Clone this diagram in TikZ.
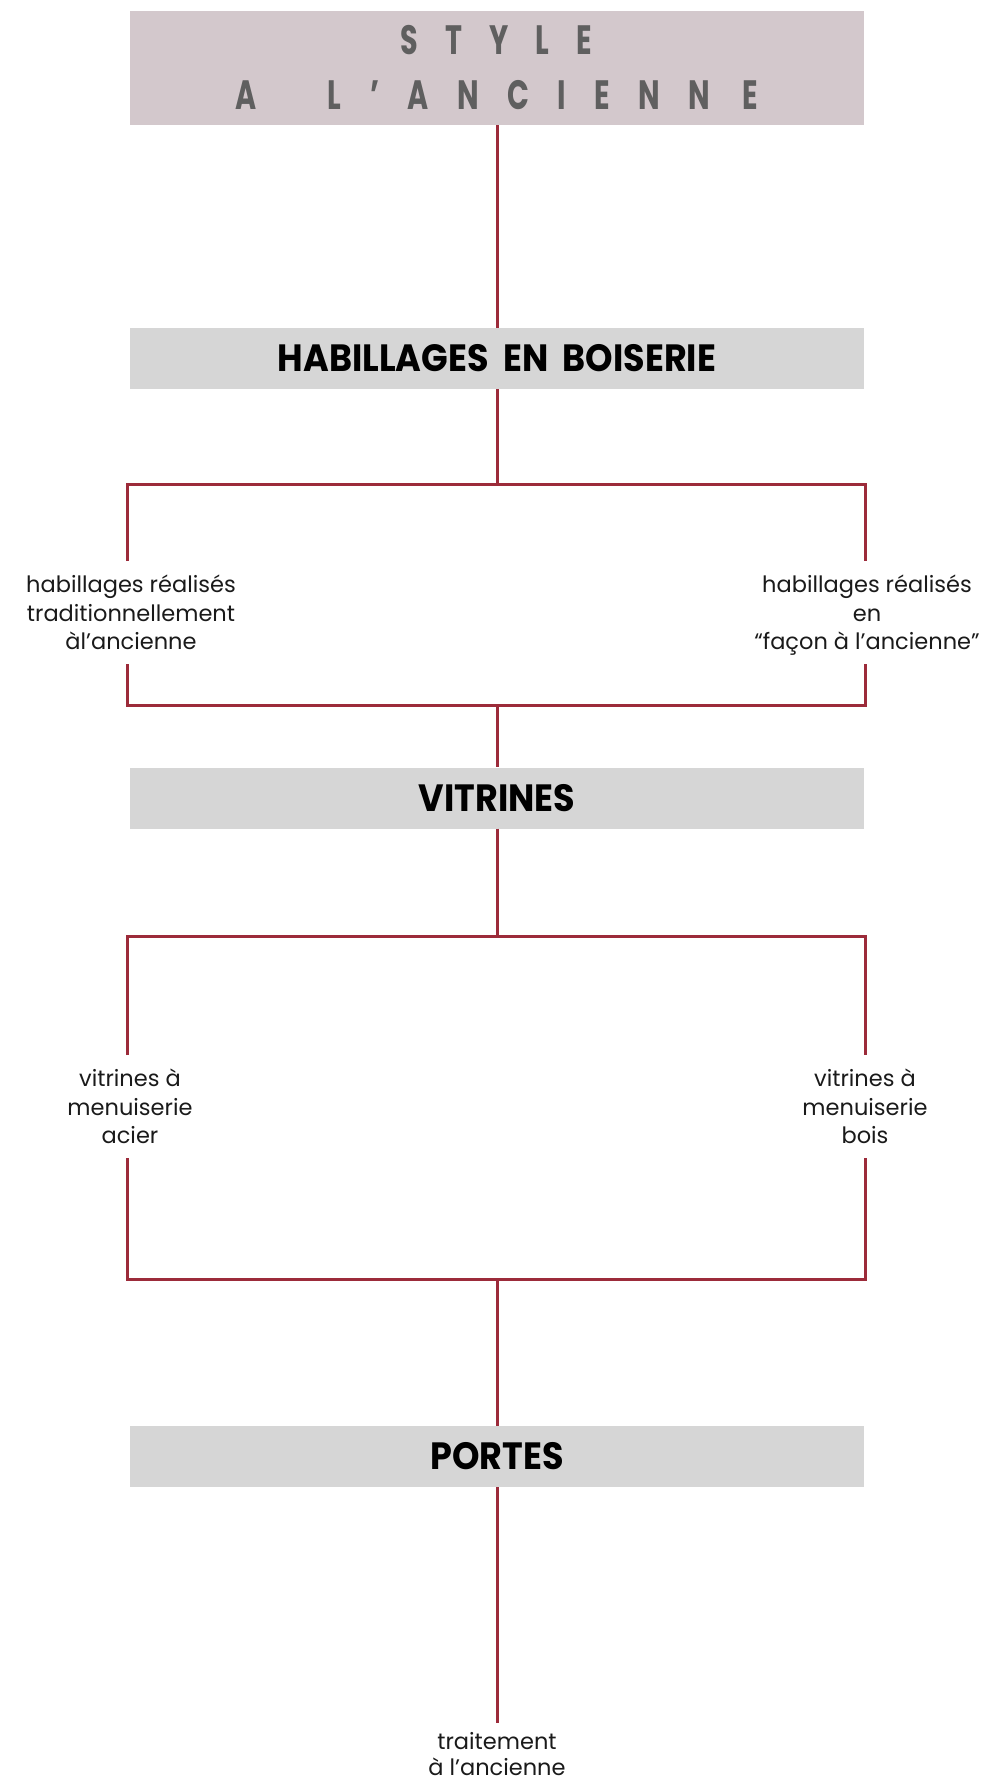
\documentclass[tikz,border=0pt]{standalone}
\usepackage{fontspec}
\setmainfont{Poppins}
\newfontfamily\headfont{Poppins}[FakeStretch=0.92]
\newfontfamily\titlefont{Poppins}[FakeStretch=0.7]
\definecolor{titlepink}{HTML}{D3C8CC}
\definecolor{headgray}{HTML}{D6D6D6}
\definecolor{linkred}{HTML}{9C2B3A}
\definecolor{titlegray}{HTML}{5F5F5F}
\definecolor{labtext}{HTML}{1A1A1A}
\newcommand\tk{\kern 28.5pt\relax}
\newcommand\wsp{\kern 7pt\ }
\begin{document}
\begin{tikzpicture}[x=1pt,y=-1pt,
  link/.style={draw=linkred, line width=3pt},
  titlebox/.style={fill=titlepink, minimum width=734pt, minimum height=114pt, inner sep=0pt,
    text=titlegray, align=center, font=\titlefont\bfseries\fontsize{41}{55}\selectfont},
  headbox/.style={fill=headgray, minimum width=734pt, minimum height=61pt, inner sep=0pt,
    text=black, font=\headfont\bfseries\fontsize{38}{40}\selectfont},
  lab/.style={anchor=north, align=center, inner xsep=0pt, inner ysep=14pt, text=labtext,
    font=\fontsize{22.5}{28.5}\selectfont}]
\useasboundingbox (0,0) rectangle (992,1782);

% boxes
\node[titlebox] (title) at (497,68) {\kern-1pt S\kern 27pt T\kern 27pt Y\kern 27pt L\kern 27pt E\\A\tk\kern 8pt\ \tk L\tk ’\tk A\tk N\tk C\tk I\tk E\tk N\tk N\tk\kern 4pt E};
\node[headbox] (hab) at (497,358.5) {HABILLAGES\wsp EN\wsp BOISERIE};
\node[headbox] (vit) at (497,798) {VITRINES};
\node[headbox] (por) at (497,1456.5) {PORTES};

% labels
\node[lab] (l1) at (131,561) {habillages réalisés\\traditionnellement\\àl’ancienne};
\node[lab] (r1) at (867,561) {habillages réalisés\\en\\“façon à l’ancienne”};
\node[lab] (v1) at (130,1055) {vitrines à\\menuiserie\\acier};
\node[lab] (v2) at (865,1055) {vitrines à\\menuiserie\\bois};
\node[lab, inner ysep=9pt, font=\fontsize{22.5}{26.5}\selectfont] (t1) at (497,1723) {traitement\\à l’ancienne};

% junction coordinates
\coordinate (b1l) at (127.5,484.5); \coordinate (b1c) at (497,484.5); \coordinate (b1r) at (865,484.5);
\coordinate (b2l) at (127.5,705);   \coordinate (b2c) at (497,705);   \coordinate (b2r) at (865,705);
\coordinate (b3l) at (127.5,936.5); \coordinate (b3c) at (497,936.5); \coordinate (b3r) at (865,936.5);
\coordinate (b4l) at (127.5,1279);  \coordinate (b4c) at (497,1279);  \coordinate (b4r) at (865,1279);

% connectors
\draw[link] (title.south) -- (hab.north);
\draw[link] (hab.south) -- (b1c);
\draw[link] (b1l |- l1.north) -- (b1l) -- (b1r) -- (b1r |- r1.north);
\draw[link] (b1l |- l1.south) -- (b2l) -- (b2r) -- (b1r |- l1.south);
\draw[link] (b2c) -- (vit.north);
\draw[link] (vit.south) -- (b3c);
\draw[link] (b3l |- v1.north) -- (b3l) -- (b3r) -- (b3r |- v2.north);
\draw[link] (b3l |- v1.south) -- (b4l) -- (b4r) -- (b3r |- v1.south);
\draw[link] (b4c) -- (por.north);
\draw[link] (por.south) -- (t1.north);
\end{tikzpicture}
\end{document}
